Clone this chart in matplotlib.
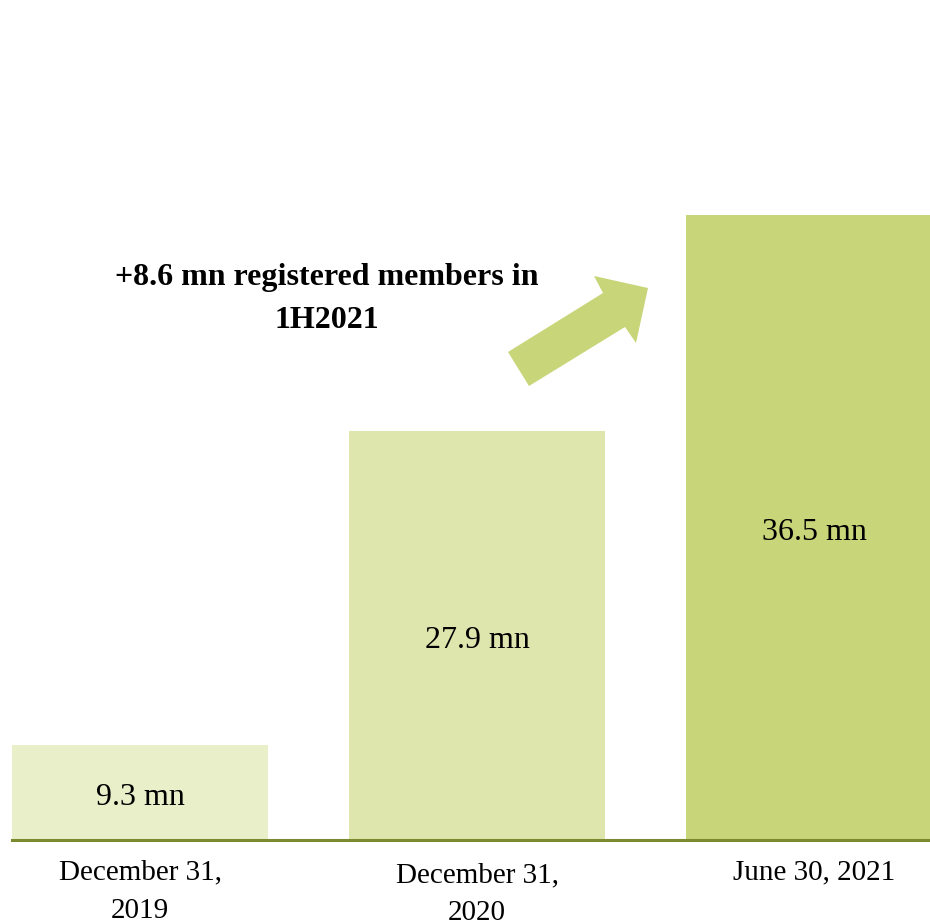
import matplotlib.pyplot as plt
from matplotlib.patches import Polygon

plt.rcParams['font.family'] = ['Liberation Serif', 'DejaVu Serif']

dates = ['December 31,\n2019', 'December 31,\n2020', 'June 30, 2021']
members = [9.3, 27.9, 36.5]          # mn registered members (labels)
bar_heights = [5.55, 23.9, 36.5]     # drawn heights (not to scale)
colors = ['#e8efc9', '#dfe6ad', '#c8d679']
note = '+8.6 mn registered members in\n1H2021'

W, H = 930, 924
fig = plt.figure(figsize=(W / 100, H / 100), dpi=100)

# axes spans from pixel x=12..930, baseline at y=840, top at y=215
ax = fig.add_axes([12 / W, 1 - 840 / H, (930 - 12) / W, (840 - 215) / H])
x = list(range(len(dates)))
ax.bar(x, bar_heights, width=0.76, color=colors, zorder=1)
ax.set_xlim(-128 / 337, (930 - 140) / 337)
ax.set_ylim(0, 36.5)

for xi, h, v in zip(x, bar_heights, members):
    ax.text(xi, h / 2 - 0.3, f'{v} mn', ha='center', va='center', fontsize=23)

for s in ['top', 'right', 'left']:
    ax.spines[s].set_visible(False)
ax.spines['bottom'].set_color('#7a8a2e')
ax.spines['bottom'].set_linewidth(2.2)
ax.spines['bottom'].set_zorder(3)
ax.set_yticks([])
ax.set_xticks(x)
ax.set_xticklabels(dates, fontsize=21, linespacing=1.62)
ax.tick_params(axis='x', length=0, pad=14)
lab2 = ax.get_xticklabels()[1]
lab2.set_y(-0.004)

# annotation text
fig.text(327 / W, 1 - 299 / H, note, ha='center', va='center', fontsize=23,
         fontweight='bold', linespacing=1.68)

# big arrow
pts = [(508, 352), (603, 293), (594, 276), (648, 288), (636, 343), (625, 327), (529, 386)]
arrow = Polygon([(px / W, 1 - py / H) for px, py in pts], closed=True,
                transform=fig.transFigure, facecolor='#c8d679', edgecolor='none')
fig.patches.append(arrow)

fig.savefig('out.png', dpi=100)
